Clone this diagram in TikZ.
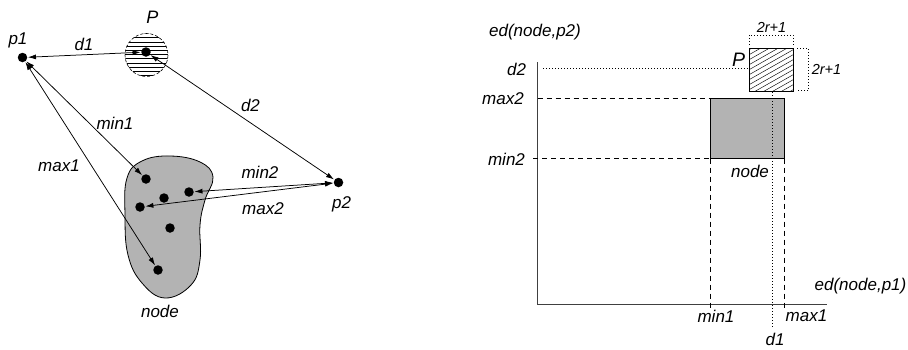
\documentclass[tikz,border=0pt]{standalone}
\usepackage{fontspec}
\setmainfont{Liberation Sans}
\usetikzlibrary{arrows.meta}
\definecolor{blobgray}{HTML}{B3B3B3}
\tikzset{
  lbl/.style={font=\fontsize{17}{19}\selectfont\itshape, inner sep=0pt},
  small/.style={font=\fontsize{14.5}{16}\selectfont\itshape, inner sep=0pt},
  dotpt/.style={circle, fill=black, inner sep=0pt, minimum size=9.5pt},
  dbl/.style={{Latex[length=8pt,width=5pt]}-{Latex[length=8pt,width=5pt]}, line width=0.75pt, shorten <=0.5pt, shorten >=0.5pt},
  dsh/.style={dash pattern=on 5pt off 4pt, line width=0.8pt},
  dtt/.style={dash pattern=on 1pt off 2pt, line width=0.8pt},
  axis/.style={line width=1pt, black!75},
  hatch/.style={line width=0.45pt},
}
\begin{document}
\begin{tikzpicture}[x=1pt,y=-1pt]
\useasboundingbox (0,0) rectangle (908,349);
% ---------------- left diagram ----------------
% hatched circle P
\begin{scope}
  \clip (146.5,55) circle (21.5);
  \foreach \k in {0,...,11} \draw[hatch] (120,33.5+4.2*\k) -- (175,33.5+4.2*\k);
\end{scope}
\draw[dash pattern=on 3pt off 2pt, line width=0.6pt] (146.5,55) circle (21.5);
% blob
\draw[fill=blobgray, line width=0.8pt] plot[smooth cycle, tension=0.7] coordinates {
  (170,156) (200,162) (213,177) (205,200) (200,225) (200,260) (191,285)
  (165,298) (142,283) (128,255) (125,215) (127,178) (142,161)};
% points
\node[dotpt] (p1) at (22.5,57.5) {};
\node[dotpt] (pc) at (146,52) {};
\node[dotpt] (p2) at (338.5,182.5) {};
\node[dotpt] (n1) at (146,179) {};
\node[dotpt] (n2) at (164,198) {};
\node[dotpt] (n3) at (189,192) {};
\node[dotpt] (n4) at (140,207) {};
\node[dotpt] (n5) at (170,228) {};
\node[dotpt] (n6) at (158,270) {};
% arrows
\draw[dbl] (p1) -- (pc);
\draw[dbl] (pc) -- (p2);
\draw[dbl] (p1) -- (n1);
\draw[dbl] (p1) -- (n6);
\draw[dbl] (p2) -- (n3);
\draw[dbl] (p2) -- (n4);
% labels
\node[lbl] (lp1) at (18,40) {p1};
\node[lbl] (ld1) at (84,44) {d1};
\node[font=\fontsize{18}{20}\selectfont\itshape, inner sep=0pt] (lP) at (152.5,17.5) {P};
\node[lbl] (ld2) at (250.5,105) {d2};
\node[lbl] (lmin1) at (115,123) {min1};
\node[lbl] (lmax1) at (59,165.5) {max1};
\node[lbl] (lmin2) at (260,172.5) {min2};
\node[lbl] (lmax2) at (263,209) {max2};
\node[lbl] (lp2) at (341.5,204) {p2};
\node[lbl] (lnode) at (160,311.5) {node};
% ---------------- right diagram ----------------
% node rectangle
\draw[fill=blobgray, line width=0.8pt] (710,98.5) rectangle (784,158.5);
% hatched P square
\begin{scope}
  \clip (749,48) rectangle (793,91);
  \foreach \k in {0,...,20} \draw[hatch] (745,42+5*\k) -- ++(60,-34);
\end{scope}
\draw[line width=0.8pt] (749,48) rectangle (793,91);
% axes
\draw[axis] (537.5,62) -- (537.5,304) -- (827,304);
% guide lines
\draw[dtt] (543,68) -- (749,68);
\draw[dsh] (537.5,98.5) -- (710,98.5);
\draw[dsh] (533,158.5) -- (710,158.5);
\draw[dsh] (710,158.5) -- (710,308);
\draw[dsh] (784,158.5) -- (784,308);
\draw[dtt] (772,92) -- (772,327);
% 2r+1 brackets
\draw[dtt] (749,45) -- (749,35) -- (793,35) -- (793,45);
\draw[dtt] (797,48.5) -- (808.5,48.5) -- (808.5,90.5) -- (797,90.5);
% labels
\node[lbl] (ly) at (535,32.5) {ed(node,p2)};
\node[lbl] (lx) at (860.5,286.5) {ed(node,p1)};
\node[lbl] (rd2) at (516.5,69) {d2};
\node[lbl] (rmax2) at (503,99) {max2};
\node[lbl] (rmin2) at (506.5,159) {min2};
\node[lbl] (rmin1) at (716,316) {min1};
\node[lbl] (rmax1) at (806.5,316) {max1};
\node[lbl] (rd1) at (775,339.5) {d1};
\node[lbl] (rnode) at (750,171.5) {node};
\node[font=\fontsize{19.5}{21}\selectfont\itshape, inner sep=0pt] (rP) at (738.5,60) {P};
\node[small] (rt) at (771.5,27.5) {2r+1};
\node[small] (rr) at (826.5,69) {2r+1};
\end{tikzpicture}
\end{document}
